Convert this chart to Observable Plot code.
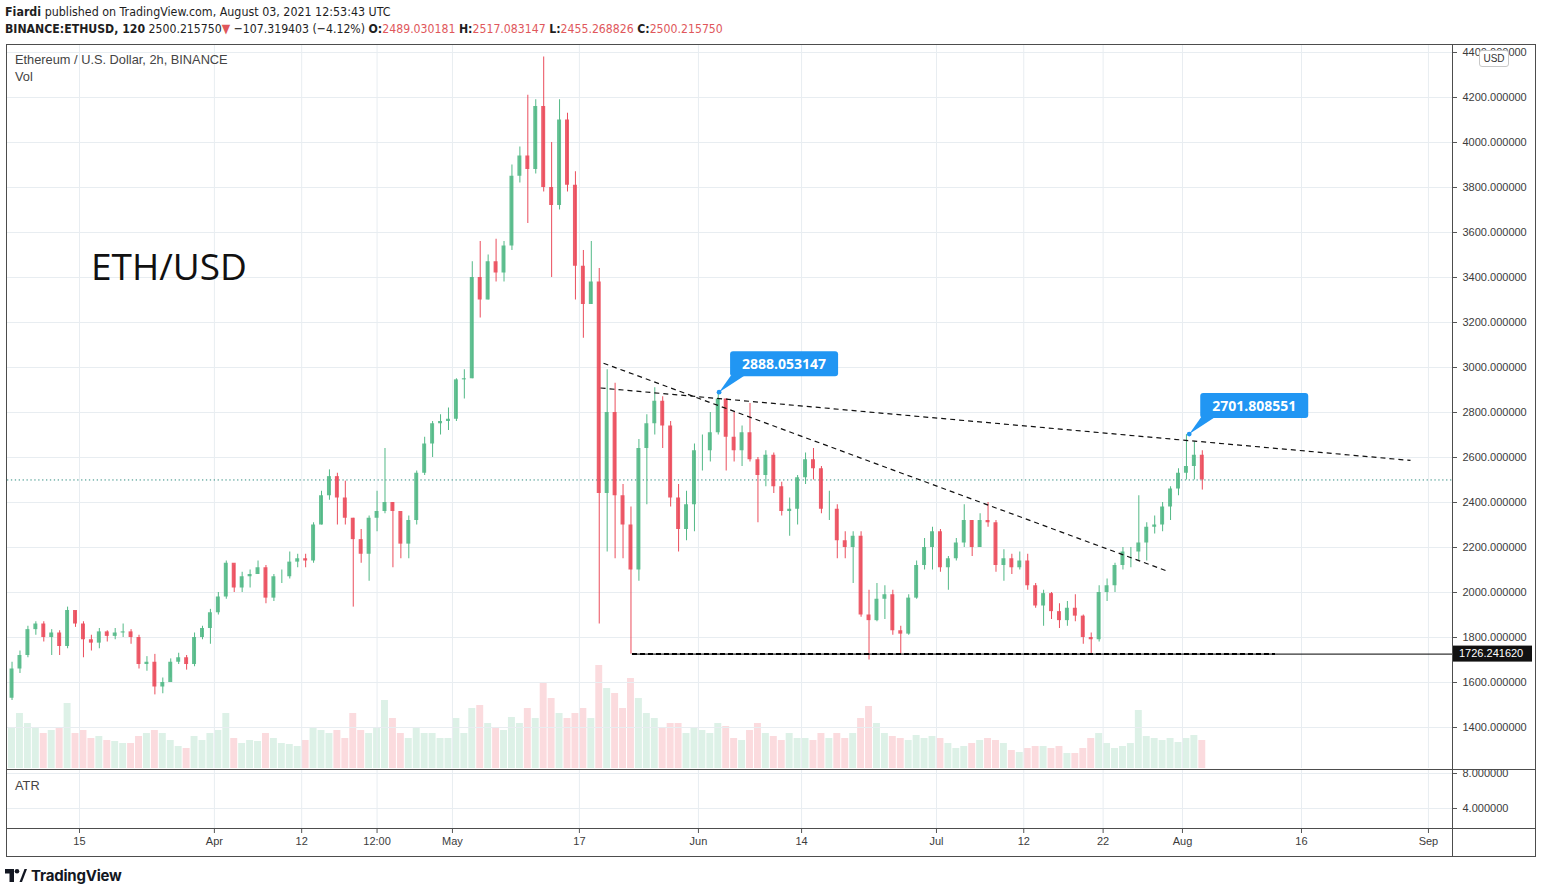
<!DOCTYPE html>
<html>
<head>
<meta charset="utf-8">
<script src="https://cdn.jsdelivr.net/npm/d3@7"></script>
<script src="https://cdn.jsdelivr.net/npm/@observablehq/plot@0.6"></script>
<style>
  body { margin: 0; background: #fff; }
  #root { position: relative; width: 1542px; height: 893px; overflow: hidden; background: #fff;
          font-family: "Liberation Sans Narrow", "DejaVu Sans Condensed", "Liberation Sans", Arial, sans-serif; color: #1e1e1e; }
  .abs { position: absolute; white-space: nowrap; }
  .hdr { font-size: 13px; transform-origin: 0 0; }
  .red { color: #e0575b; }
  .lbl { font-family: "Liberation Sans", Arial, sans-serif; font-size: 12.8px; color: #444; }
  .line { position: absolute; background: #4d4d4d; }
</style>
</head>
<body>
<div id="root"></div>
<script>
// ---------- data (daily OHLC) ----------
const firstDay = "2021-03-06";
const firstOpen = 1530;
const closes = [
  1660,1720,1835,1860,1800,1820,1760,1920,1860,1790,
  1775,1825,1805,1820,1825,1800,1680,1690,1580,1600,
  1690,1710,1680,1800,1840,1910,1980,2130,2020,2070,
  2080,2110,1975,2070,2070,2135,2150,2140,2300,2430,
  2515,2420,2330,2235,2170,2330,2360,2400,2360,2215,
  2320,2530,2660,2750,2760,2770,2945,2950,3400,3300,
  3470,3420,3540,3850,3940,3880,4160,3800,3720,4100,
  3810,3450,3280,3380,2440,2800,2430,2300,2100,2640,
  2750,2850,2740,2420,2280,2390,2630,2630,2710,2860,
  2690,2630,2710,2590,2520,2610,2470,2360,2370,2510,
  2590,2550,2370,2370,2230,2200,2250,1900,1875,1970,
  1990,1830,1815,1975,2120,2200,2270,2110,2150,2220,
  2320,2200,2320,2310,2120,2150,2110,2140,2030,1940,
  1995,1915,1875,1930,1895,1800,1790,2000,2030,2120,
  2180,2180,2220,2290,2300,2380,2460,2530,2560,2610,2500.215750
];
const highs = [
  1690,1740,1850,1870,1870,1835,1830,1935,1915,1870,
  1810,1840,1830,1840,1860,1835,1810,1715,1725,1620,
  1705,1730,1720,1820,1850,1925,2000,2140,2120,2090,
  2100,2140,2120,2080,2100,2180,2170,2170,2310,2450,
  2545,2530,2495,2330,2280,2340,2450,2640,2400,2330,
  2340,2540,2690,2760,2790,2820,2950,2990,3470,3560,
  3500,3570,3560,3900,3980,4210,4190,4380,4000,4190,
  4130,3870,3520,3560,3440,2990,2930,2480,2380,2680,
  2790,2910,2870,2760,2480,2450,2660,2700,2800,2888.053147,
  2860,2800,2740,2840,2600,2630,2620,2490,2420,2520,
  2620,2640,2560,2450,2390,2270,2270,2270,2010,2040,
  2030,2010,1850,1990,2140,2240,2290,2280,2160,2240,
  2390,2320,2350,2400,2320,2190,2170,2180,2170,2040,
  2010,2000,1950,1960,1990,1900,1820,2030,2060,2130,
  2200,2200,2430,2310,2340,2400,2470,2550,2701.808551,2670,2630
];
const lows = [
  1520,1640,1710,1810,1780,1720,1720,1750,1845,1710,
  1740,1750,1780,1790,1800,1770,1660,1650,1545,1550,
  1620,1680,1655,1670,1790,1770,1900,1970,2000,2000,
  2020,2080,1950,1960,2040,2060,2110,2110,2130,2300,
  2410,2300,2300,1935,2130,2050,2270,2350,2110,2150,
  2150,2300,2520,2600,2700,2720,2760,2860,2950,3220,
  3300,3380,3380,3520,3820,3640,3860,3780,3400,3700,
  3780,3300,3130,3280,1860,2180,2150,2150,1726.241620,2050,
  2390,2700,2640,2380,2180,2230,2270,2540,2580,2700,
  2540,2580,2560,2580,2310,2470,2440,2340,2250,2300,
  2480,2500,2350,2320,2150,2150,2040,1890,1700,1870,
  1880,1810,1725,1810,1970,2100,2100,2090,2010,2140,
  2200,2160,2200,2290,2090,2050,2080,2100,2010,1930,
  1850,1880,1840,1850,1870,1770,1720,1780,1960,2000,
  2100,2110,2140,2140,2260,2270,2320,2430,2500,2500,2455.268826
];
// volume (relative units)
const volumes = [
  40,55,45,40,35,38,40,65,35,38,
  30,32,28,27,25,25,32,35,38,35,
  28,22,20,32,28,35,38,55,30,25,
  28,27,35,30,25,24,22,28,40,38,
  35,38,30,55,38,35,40,68,50,35,
  30,40,35,35,30,30,50,35,60,63,
  45,40,38,51,45,60,50,85,70,55,
  50,55,60,50,103,80,75,60,90,70,
  55,50,40,45,45,35,40,38,35,45,
  42,30,28,38,45,35,32,28,35,30,
  30,28,35,30,35,30,35,50,62,45,
  35,32,30,28,33,30,32,30,25,20,
  22,25,28,30,28,25,18,16,20,22,
  22,20,22,15,15,20,30,35,25,20,
  22,25,58,32,30,28,30,26,30,33,28
];

const priceTicks = [1400,1600,1800,2000,2200,2400,2600,2800,3000,3200,3400,3600,3800,4000,4200,4400];
const atrTicks = [4, 8];
const dateTicks = ["2021-03-15T00:00Z","2021-04-01T00:00Z","2021-04-12T00:00Z","2021-04-21T12:00Z","2021-05-01T00:00Z",
  "2021-05-17T00:00Z","2021-06-01T00:00Z","2021-06-14T00:00Z","2021-07-01T00:00Z","2021-07-12T00:00Z",
  "2021-07-22T00:00Z","2021-08-01T00:00Z","2021-08-16T00:00Z","2021-09-01T00:00Z"];
const dateLabels = ["15","Apr","12","12:00","May","17","Jun","14","Jul","12","22","Aug","16","Sep"];

const lastPrice = 2500.215750;
const trendStartDates = ["2021-05-20T01:00Z", "2021-05-19T16:00Z"];
const trendStartPrices = [3019, 2909];
const trendEndDates = ["2021-07-29T20:40Z", "2021-08-29T17:45Z"];
const trendEndPrices = [2098, 2587];
const supportPrice = 1726.241620;
const supportFrom = "2021-05-23T16:30Z";
const supportDashTo = "2021-08-12T17:20Z";
const calloutDates = ["2021-06-03T16:00Z", "2021-08-01T22:00Z"];
const calloutPrices = [2888.053147, 2701.808551];

// ---------- derived tables ----------
const UP = "#53b987", DOWN = "#eb4d5c", GRID = "#e8edf1", BLUE = "#2196f3";
const day0 = new Date(firstDay + "T00:00Z");
const candles = closes.map((c, i) => {
  const day = d3.utcDay.offset(day0, i);
  const open = i === 0 ? firstOpen : closes[i - 1];
  return {
    day, open, close: c, high: highs[i], low: lows[i], vol: volumes[i], up: c >= open,
    mid: d3.utcHour.offset(day, 12),
    b1: d3.utcMinute.offset(day, 360), b2: d3.utcMinute.offset(day, 1080),
    v1: d3.utcMinute.offset(day, 90), v2: d3.utcMinute.offset(day, 1350)
  };
});
const tickDates = dateTicks.map(d => new Date(d));
const labelOf = new Map(tickDates.map((d, i) => [+d, dateLabels[i]]));
const trends = trendStartDates.map((d, i) => ({
  x1: new Date(d), y1: trendStartPrices[i], x2: new Date(trendEndDates[i]), y2: trendEndPrices[i]
}));
const xDomain = [new Date("2021-03-05T22:15Z"), new Date("2021-09-04T00:45Z")];
const W = 1542;
const fmt6 = d3.format(".6f");
const svgStyle = { background: "transparent", overflow: "visible",
  fontFamily: "'Liberation Sans', Arial, sans-serif", fontSize: "11px", color: "#3c3c3c" };

// callout boxes and price label drawn from the scales
function calloutMark(index, scales, values, dims) {
  const g = d3.create("svg:g").attr("text-anchor", "start");
  calloutDates.forEach((d, i) => {
    const px = scales.x(new Date(d)), py = scales.y(calloutPrices[i]);
    const bx = px + 11, by = py - 41, bw = 108, bh = 25;
    g.append("path").attr("d", `M${px},${py} L${bx + 1},${by + bh - 1} L${bx + 15},${by + bh - 1} Z`).attr("fill", BLUE);
    g.append("rect").attr("x", bx).attr("y", by).attr("width", bw).attr("height", bh).attr("rx", 3).attr("fill", BLUE);
    g.append("circle").attr("cx", px).attr("cy", py).attr("r", 2.4).attr("fill", BLUE);
    g.append("text").attr("x", bx + bw / 2).attr("y", by + bh / 2).attr("dy", "0.36em")
      .attr("text-anchor", "middle").attr("fill", "#fff").attr("font-weight", "bold")
      .attr("font-size", 14).attr("font-family", "'Open Sans', 'Liberation Sans', sans-serif")
      .text(calloutPrices[i].toFixed(6));
  });
  const ly = scales.y(supportPrice);
  const lx = dims.width - dims.marginRight + 1;
  g.append("rect").attr("x", lx).attr("y", ly - 8).attr("width", 79).attr("height", 16).attr("fill", "#111");
  g.append("text").attr("x", lx + 6).attr("y", ly).attr("dy", "0.35em").attr("fill", "#fff")
    .attr("text-anchor", "start")
    .attr("font-size", 11).attr("font-family", "'Liberation Sans', Arial, sans-serif").text(fmt6(supportPrice));
  return g.node();
}

// ---------- volume pane (under the price pane) ----------
const volPlot = Plot.plot({
  width: W, height: 726, marginLeft: 7, marginRight: 90, marginTop: 1, marginBottom: 2,
  x: { type: "utc", domain: xDomain, axis: null },
  y: { domain: [0, 723], axis: null },
  style: svgStyle,
  marks: [
    Plot.rect(candles, { x1: "v1", x2: "v2", y1: 0, y2: "vol", fill: d => d.up ? UP : DOWN, fillOpacity: 0.2 })
  ]
});

// ---------- price pane ----------
const mainPlot = Plot.plot({
  width: W, height: 726, marginLeft: 7, marginRight: 90, marginTop: 1, marginBottom: 2,
  x: { type: "utc", domain: xDomain, axis: null },
  y: { domain: [1217.8, 4431.1] },
  style: svgStyle,
  marks: [
    Plot.gridY(priceTicks, { stroke: GRID, strokeOpacity: 1 }),
    Plot.gridX(tickDates, { stroke: GRID, strokeOpacity: 1 }),
    Plot.axisY(priceTicks, { anchor: "right", tickFormat: fmt6, tickSize: 4, tickPadding: 6, label: null, stroke: "#555" }),
    Plot.ruleY([lastPrice], { stroke: "#2e8b7f", strokeDasharray: "1.3,2.6", strokeWidth: 1 }),
    Plot.ruleX(candles, { x: "mid", y1: "low", y2: "high", stroke: d => d.up ? UP : DOWN, strokeWidth: 1 }),
    Plot.rect(candles, { x1: "b1", x2: "b2", y1: "open", y2: "close", fill: d => d.up ? UP : DOWN, fillOpacity: 0.9 }),
    Plot.link(trends, { x1: "x1", y1: "y1", x2: "x2", y2: "y2", stroke: "#111", strokeWidth: 1.2, strokeDasharray: "5,4" }),
    Plot.ruleY([supportPrice], { x1: new Date(supportFrom), x2: xDomain[1], stroke: "#000", strokeWidth: 1 }),
    Plot.ruleY([supportPrice], { x1: new Date(supportFrom), x2: new Date(supportDashTo), stroke: "#000", strokeWidth: 2, strokeDasharray: "5,3" }),
    calloutMark
  ]
});

// ---------- ATR pane + time axis ----------
const atrPlot = Plot.plot({
  width: W, height: 88, marginLeft: 7, marginRight: 90, marginTop: 1, marginBottom: 29,
  x: { type: "utc", domain: xDomain },
  y: { domain: [1.714, 8.343] },
  style: svgStyle,
  marks: [
    Plot.gridX(tickDates, { stroke: GRID, strokeOpacity: 1 }),
    Plot.gridY(atrTicks, { stroke: GRID, strokeOpacity: 1 }),
    Plot.axisY(atrTicks, { anchor: "right", tickFormat: fmt6, tickSize: 4, tickPadding: 6, label: null, stroke: "#555" }),
    Plot.axisX(tickDates, { anchor: "bottom", tickFormat: d => labelOf.get(+d), tickSize: 5, tickPadding: 4, label: null, stroke: "#555" })
  ]
});

// ---------- page assembly ----------
const root = document.getElementById("root");
function place(node, left, top) {
  const wrap = document.createElement("div");
  wrap.className = "abs";
  wrap.style.left = left + "px"; wrap.style.top = top + "px"; wrap.style.width = W + "px";
  wrap.appendChild(node);
  root.appendChild(wrap);
  return wrap;
}
place(volPlot, 0, 44);
place(mainPlot, 0, 44);
place(atrPlot, 0, 769);

root.insertAdjacentHTML("beforeend", `
  <div class="abs hdr" style="left:5px;top:4px;transform:scaleX(0.95);"><b>Fiardi</b> published on TradingView.com, August 03, 2021 12:53:43 UTC</div>
  <div class="abs hdr" style="left:5px;top:21px;transform:scaleX(0.937);"><b>BINANCE:ETHUSD, 120</b> 2500.215750<span class="red">▼</span> −107.319403 (−4.12%) <b>O:</b><span class="red">2489.030181</span> <b>H:</b><span class="red">2517.083147</span> <b>L:</b><span class="red">2455.268826</span> <b>C:</b><span class="red">2500.215750</span></div>
  <div class="line" style="left:7px;top:44px;width:1529px;height:1px;"></div>
  <div class="line" style="left:7px;top:856px;width:1529px;height:1px;"></div>
  <div class="line" style="left:6px;top:44px;width:1px;height:813px;"></div>
  <div class="line" style="left:1535px;top:44px;width:1px;height:813px;"></div>
  <div class="line" style="left:1452px;top:44px;width:1px;height:813px;"></div>
  <div class="line" style="left:7px;top:769px;width:1529px;height:1px;"></div>
  <div class="line" style="left:7px;top:828px;width:1529px;height:1px;"></div>
  <div class="abs lbl" style="left:15px;top:52px;">Ethereum / U.S. Dollar, 2h, BINANCE</div>
  <div class="abs lbl" style="left:15px;top:69px;">Vol</div>
  <div class="abs lbl" style="left:15px;top:778px;">ATR</div>
  <div class="abs" style="left:91px;top:240px;font-family:'Open Sans','DejaVu Sans',sans-serif;font-size:37px;color:#111;">ETH/USD</div>
  <div class="abs" style="left:1479px;top:50px;width:28px;height:15px;border:1px solid #c8c8c8;border-radius:3px;background:#fff;font-family:'Liberation Sans',Arial,sans-serif;font-size:10px;line-height:15px;text-align:center;color:#333;">USD</div>
  <div class="abs" style="left:5px;top:866px;display:flex;align-items:center;gap:4px;">
    <svg width="22" height="13" viewBox="0 0 22 13"><path d="M0 0h9v13h-4.5v-8.5h-4.5z" fill="#131722"/><circle cx="12" cy="2.3" r="2.3" fill="#131722"/><path d="M14.5 13l5-13h2.5l-5 13z" fill="#131722"/></svg>
    <span style="font-family:'Inter','Liberation Sans',Arial,sans-serif;font-weight:700;font-size:15px;color:#131722;letter-spacing:-0.2px;">TradingView</span>
  </div>
`);
</script>
</body>
</html>
